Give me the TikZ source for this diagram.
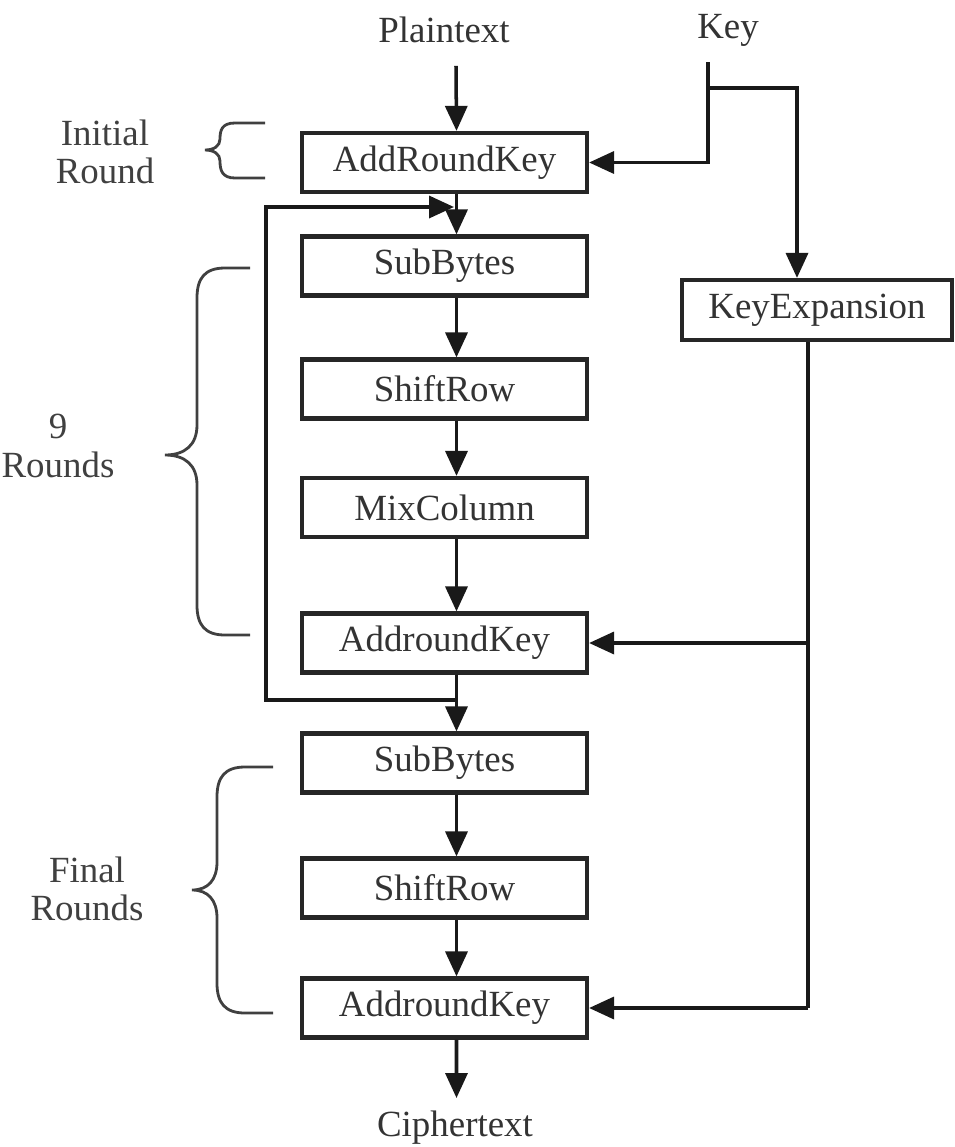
\documentclass[tikz,border=0pt]{standalone}
\usepackage{fontspec}
\setmainfont{Liberation Serif}
\usetikzlibrary{arrows.meta}
\begin{document}
\begin{tikzpicture}[x=0.02cm,y=-0.02cm,
 box/.style={draw=black!85, line width=2.4pt, minimum width=5.7cm, minimum height=1.18cm, inner sep=0pt, font=\fontsize{21}{24}\selectfont, text=black!80},
 lbl/.style={font=\fontsize{21}{24}\selectfont, text=black!80, inner sep=0pt},
 side/.style={font=\fontsize{21}{22}\selectfont, text=black!75, align=center, inner sep=0pt},
 arr/.style={line width=2pt, draw=black!90, -{Triangle[length=0.5cm,width=0.44cm]}},
 ln/.style={line width=2pt, draw=black!90},
 brace/.style={line width=1.6pt, draw=black!75}]
\useasboundingbox (0,0) rectangle (955,1147);

% labels
\node[lbl] (pt) at (444,30) {Plaintext};
\node[lbl] (key) at (728,30) {Key};
\node[lbl] (ct) at (455,1128) {Ciphertext};

% boxes
\node[box] (ark0) at (444.5,162.5) {AddRoundKey};
\node[box] (sb1) at (444.5,266) {SubBytes};
\node[box] (sr1) at (444.5,389) {ShiftRow};
\node[box] (mc) at (444.5,507.5) {MixColumn};
\node[box] (ark1) at (444.5,643) {AddroundKey};
\node[box] (sb2) at (444.5,763) {SubBytes};
\node[box] (sr2) at (444.5,888) {ShiftRow};
\node[box] (ark2) at (444.5,1008) {AddroundKey};
\node[box, minimum width=5.4cm, minimum height=1.2cm] (kx) at (817,310) {KeyExpansion};

% side labels
\node[side] (lini) at (105,152) {Initial\\Round};
\node[side] (lnine) at (58,446) {9\\Rounds};
\node[side] (lfin) at (87,889) {Final\\Rounds};

% main flow
\draw[arr] ([xshift=0.24cm,yshift=-0.45cm]pt.south) -- ([xshift=0.24cm]ark0.north);
\draw[arr] ([xshift=0.24cm]ark0.south) -- ([xshift=0.24cm]sb1.north);
\draw[arr] ([xshift=0.24cm]sb1.south) -- ([xshift=0.24cm]sr1.north);
\draw[arr] ([xshift=0.24cm]sr1.south) -- ([xshift=0.24cm]mc.north);
\draw[arr] ([xshift=0.24cm]mc.south) -- ([xshift=0.24cm]ark1.north);
\draw[arr] ([xshift=0.24cm]ark1.south) -- ([xshift=0.24cm]sb2.north);
\draw[arr] ([xshift=0.24cm]sb2.south) -- ([xshift=0.24cm]sr2.north);
\draw[arr] ([xshift=0.24cm]sr2.south) -- ([xshift=0.24cm]ark2.north);
\coordinate (cte) at (456.5,1098);
\draw[arr] ([xshift=0.24cm]ark2.south) -- (cte);

% loop
\coordinate (lb) at (456.5,700);
\coordinate (lt) at (454,207);
\draw[arr] (lb) -| (266,207) -- (lt);

% key path
\coordinate (k0) at (708,62);
\coordinate (k1) at (708,88);
\draw[arr] (k0) |- (ark0.east);
\draw[arr] (k1) -| ([xshift=-0.4cm]kx.north);

% key expansion outputs
\coordinate (kb) at ([xshift=-0.18cm]kx.south);
\draw[ln] (kb) -- (kb |- ark2.east);
\draw[arr] (kb |- ark1.east) -- (ark1.east);
\draw[arr] (kb |- ark2.east) -- (ark2.east);

% braces
\draw[brace] (265,123) -- (235,123) .. controls (222,123) and (220,130) .. (220,139) .. controls (220,146) and (214,150) .. (205,150) .. controls (214,150) and (220,154) .. (220,161) .. controls (220,170) and (222,178) .. (235,178) -- (265,178);
\draw[brace] (250,268) -- (225,268) .. controls (205,268) and (197,278) .. (197,298) -- (197,425) .. controls (197,445) and (185,455) .. (165,455) .. controls (185,455) and (197,465) .. (197,485) -- (197,605) .. controls (197,625) and (205,635) .. (225,635) -- (250,635);
\draw[brace] (273,767) -- (245,767) .. controls (225,767) and (217,777) .. (217,797) -- (217,862) .. controls (217,880) and (208,890) .. (192,890) .. controls (208,890) and (217,900) .. (217,918) -- (217,983) .. controls (217,1003) and (225,1013) .. (245,1013) -- (273,1013);
\end{tikzpicture}
\end{document}
